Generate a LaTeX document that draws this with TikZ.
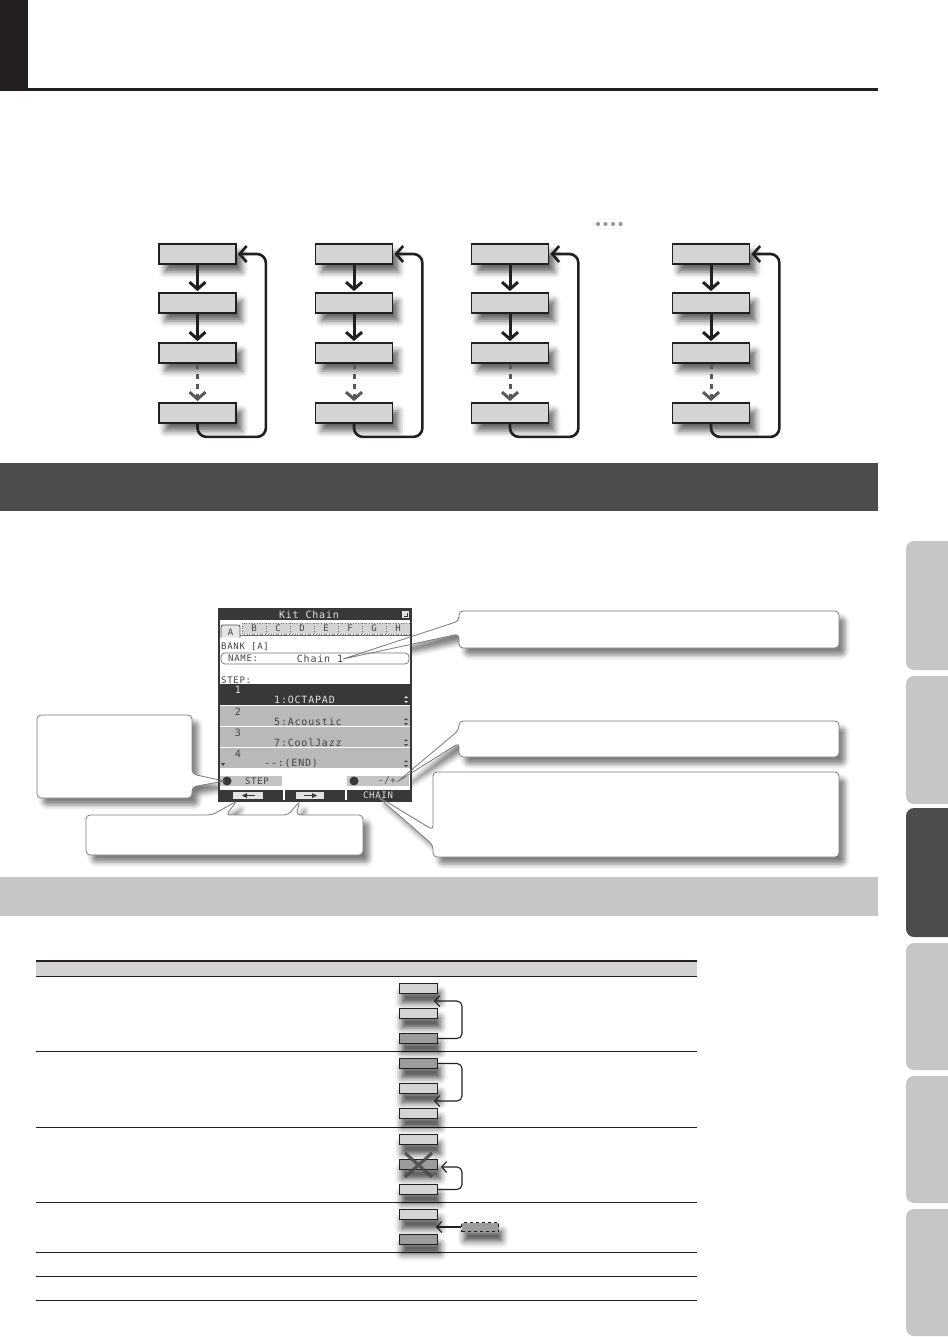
\documentclass[tikz,border=0pt]{standalone}
\usepackage{fontspec}
\newfontfamily\lcd[LetterSpace=8]{DejaVu Sans Mono}
\usetikzlibrary{arrows.meta,shadows.blur,calc}
\definecolor{boxgray}{HTML}{D4D4D4}
\definecolor{darkbar}{HTML}{4E4B4C}
\definecolor{lightbar}{HTML}{C6C6C6}
\definecolor{minidark}{HTML}{9C9C9C}
\definecolor{hdrgray}{HTML}{D2D2D2}
\definecolor{lcdrow}{HTML}{B9B9B9}
\definecolor{lcddark}{HTML}{383838}
\definecolor{lcdtext}{HTML}{444444}
\definecolor{lcdlight}{HTML}{E2E2E2}
\definecolor{inkblack}{HTML}{231F20}
\definecolor{calloutline}{HTML}{7A7A7A}
\pgfdeclarelayer{bg}
\pgfsetlayers{bg,main}
\tikzset{
  softshadow/.style={blur shadow={shadow xshift=6pt, shadow yshift=-8pt, shadow blur radius=6pt, shadow opacity=60}},
  flowbox/.style={draw=inkblack, line width=1.8pt, fill=boxgray, minimum width=77pt, minimum height=20pt, inner sep=0pt, softshadow},
  flowarrow/.style={draw=inkblack, line width=3pt, -{Straight Barb[length=7pt,width=16pt]}, shorten >=1pt},
  dasharrow/.style={draw=black!65, line width=3pt, dash pattern=on 5pt off 5pt, -{Straight Barb[length=7pt,width=16pt]}, shorten >=1pt},
  looparrow/.style={draw=inkblack, line width=2.6pt, rounded corners=9pt, -{Straight Barb[length=7pt,width=16pt]}, shorten >=1pt},
  loopshade/.style={draw=black, opacity=0.13, line width=8pt, rounded corners=9pt, transform canvas={shift={(5pt,-6pt)}}},
  callout/.style={draw=calloutline, line width=0.8pt, fill=white, rounded corners=4pt, blur shadow={shadow xshift=6pt, shadow yshift=-7pt, shadow blur radius=5pt, shadow opacity=50}},
  ptrline/.style={draw=calloutline, line width=0.8pt},
  minibox/.style={draw=inkblack, line width=1pt, fill=boxgray, minimum width=38pt, minimum height=10pt, inner sep=0pt, blur shadow={shadow xshift=3pt, shadow yshift=-9pt, shadow blur radius=7pt, shadow opacity=75}},
  minidk/.style={minibox, fill=minidark},
  miniarrow/.style={draw=inkblack, line width=1.1pt, rounded corners=5pt, -{Straight Barb[length=5pt,width=11pt]}},
  lcdtxt/.style={font=\lcd\fontsize{10}{10}\selectfont, text=lcdtext, inner sep=0pt},
  lcdsmall/.style={font=\lcd\fontsize{9}{9}\selectfont, text=lcdtext, inner sep=0pt},
}
\begin{document}
\begin{tikzpicture}[x=1pt,y=-1pt]
\useasboundingbox (0,0) rectangle (947,1337);
\begin{pgfonlayer}{bg}
\fill[white] (0,0) rectangle (947,1337);
\end{pgfonlayer}
% dummy shadow outside the page (first blur shadow initialisation)
\path[softshadow, fill=white] (-200,-200) rectangle (-150,-150);
% ---- header
\fill[inkblack] (0,0) rectangle (28,91);
\fill[inkblack] (28,88) rectangle (878,91);
\foreach \dx in {598,605.5,613,620.5} \fill[black!40] (\dx,224) circle (2.1);
% ---- flow columns
\foreach \c/\x in {a/197.5,b/354,c/510,d/711}{
  \node[flowbox] (\c1) at (\x,254) {};
  \node[flowbox] (\c2) at (\x,303) {};
  \node[flowbox] (\c3) at (\x,353) {};
  \node[flowbox] (\c4) at (\x,413) {};
  \begin{pgfonlayer}{bg}
  \draw[loopshade] (\c4.south) -- ++(0,13) -| ($(\c1.east)+(29,0)$) -- (\c1.east);
  \end{pgfonlayer}
  \draw[looparrow] (\c4.south) -- ++(0,13) -| ($(\c1.east)+(29,0)$) -- (\c1.east);
  \draw[flowarrow] (\c1.south) -- (\c2.north);
  \draw[flowarrow] (\c2.south) -- (\c3.north);
  \draw[dasharrow] (\c3.south) -- (\c4.north);
}
% ---- section bars
\fill[darkbar] (0,463) rectangle (878,511);
\fill[lightbar] (0,877) rectangle (878,916);
% ---- side tabs
\foreach \ta/\tb in {541/670,676/804,943/1070,1076/1203,1209/1336}
  \fill[lightbar, rounded corners=8pt] (960,\ta) -- (906,\ta) -- (906,\tb) -- (960,\tb) -- cycle;
\fill[darkbar, rounded corners=8pt] (960,808) -- (906,808) -- (906,937) -- (960,937) -- cycle;
% ---- callouts
\coordinate (tipA) at (343,659); \coordinate (aA1) at (459,621); \coordinate (aA2) at (459,634);
\coordinate (tipB) at (397,782); \coordinate (aB1) at (459,730); \coordinate (aB2) at (459,743);
\coordinate (tipC) at (377,796); \coordinate (aC1) at (433,830); \coordinate (aC2) at (433,845);
\coordinate (tipD) at (224,781); \coordinate (aD1) at (192,774); \coordinate (aD2) at (192,787);
\coordinate (tipE1) at (237,801); \coordinate (aE1) at (212,815); \coordinate (aE2) at (226,815);
\coordinate (tipE2) at (300,801); \coordinate (aE3) at (288,815); \coordinate (aE4) at (296,815);
\path[callout] (600,611) -- (839,611) -- (839,648) -- (459,648) -- (aA2) -- (tipA) -- (aA1) -- (459,611) -- cycle;
\path[callout] (600,721) -- (839,721) -- (839,757) -- (459,757) -- (aB2) -- (tipB) -- (aB1) -- (459,721) -- cycle;
\path[callout] (600,772) -- (839,772) -- (839,857) -- (433,857) -- (aC2) -- (tipC) -- (aC1) -- (433,772) -- cycle;
\path[callout] (100,715) -- (192,715) -- (aD1) -- (tipD) -- (aD2) -- (192,798) -- (37,798) -- (37,715) -- cycle;
\path[callout] (150,815) -- (aE1) -- (tipE1) -- (aE2) -- (aE3) -- (tipE2) -- (aE4) -- (363,815) -- (363,855) -- (86,855) -- (86,815) -- cycle;
% ---- LCD screen
\fill[white] (219,609) rectangle (411,801);
\fill[lcddark] (219,609) rectangle (411,620);
\node[lcdtxt, text=lcdlight] (ttl) at (309,615) {Kit Chain};
\fill[lcdlight] (402,611) rectangle (409,618);
\draw[lcddark, line width=0.9pt] (403.5,616.5) -- (407.5,616.5) -- (407.5,612.5);
% tabs
\foreach \L/\i in {B/0,C/1,D/2,E/3,F/4,G/5,H/6}{
  \draw[black!55, line width=0.6pt, dotted, fill=black!17] (242+\i*24,623) rectangle ++(24,11);
  \node[lcdsmall] (tab\L) at (254+\i*24,628.7) {\L};
}
\draw[black!60, line width=0.7pt] (240,635) -- (410,635);
\draw[black!70, line width=0.8pt, fill=black!10, rounded corners=2pt] (221,637.5) -- (221,625) -- (240,625) -- (240,637.5);
\node[lcdsmall] (tabA) at (230.5,632) {A};
\node[lcdsmall, anchor=west] (bank) at (221,647) {BANK [A]};
\draw[black!55, line width=0.7pt, rounded corners=4pt] (221,653) rectangle (409,664);
\node[lcdsmall, anchor=west] (namel) at (228,658.5) {NAME:};
\node[lcdtxt] (namev) at (320,658.5) {Chain 1};
\node[lcdsmall, anchor=west] (stepl) at (221,680) {STEP:};
% rows
\fill[lcddark] (220,684) rectangle (410,705);
\node[lcdtxt, text=lcdlight] (n1) at (238,690) {1};
\node[lcdtxt, text=lcdlight, anchor=west] (v1) at (274,699.5) {1:OCTAPAD};
\fill[lcdlight] (404,698) -- (408,698) -- (406,696) -- cycle (404,701) -- (408,701) -- (406,703) -- cycle;
\foreach \t/\n/\v/\xx in {706/2/5:Acoustic/274, 727/3/7:CoolJazz/274, 748/4/-{}-:(END)/264}{
  \fill[lcdrow] (220,\t) rectangle (410,\t+20);
  \node[lcdtxt] (n\n) at (238,\t+6) {\n};
  \node[lcdtxt, anchor=west] (v\n) at (\xx,\t+15.5) {\v};
  \fill[lcdtext] (404,\t+14) -- (408,\t+14) -- (406,\t+12) -- cycle (404,\t+17) -- (408,\t+17) -- (406,\t+19) -- cycle;
}
\fill[lcdtext] (221,763) -- (225,763) -- (223,766) -- cycle;
% soft buttons
\fill[black!23] (220,776) rectangle (282,786);
\fill[lcddark] (227,781) circle (4.5);
\node[lcdsmall] (stepb) at (257,781) {STEP};
\fill[black!23] (347,776) rectangle (409,786);
\fill[lcddark] (354,781) circle (4.5);
\node[lcdsmall] (pmb) at (387,781) {-/+};
% function bar
\fill[lcddark] (219,790) rectangle (411,801);
\fill[white] (283,790) rectangle (285,801);
\fill[white] (345,790) rectangle (347,801);
\fill[lcdlight] (233,792) rectangle (263,798.5);
\fill[lcdlight] (296,792) rectangle (324,798.5);
\fill[lcddark] (242,795.5) -- (247,793) -- (247,798) -- cycle;
\draw[lcddark, line width=1pt] (247,795.5) -- (255,795.5);
\fill[lcddark] (317,795.5) -- (312,793) -- (312,798) -- cycle;
\draw[lcddark, line width=1pt] (304,795.5) -- (312,795.5);
\node[lcdsmall, text=lcdlight] (chain) at (378,795.5) {CHAIN};
\draw[lcddark, line width=1.2pt] (219,609) rectangle (411,801);
% pointer lines over the screen
\begin{scope}
\clip (219,609) rectangle (411,801);
\draw[ptrline] (aA1) -- (tipA) -- (aA2);
\draw[ptrline] (aB1) -- (tipB) -- (aB2);
\draw[ptrline] (aC1) -- (tipC) -- (aC2);
\draw[ptrline] (aD1) -- (tipD) -- (aD2);
\end{scope}
% ---- table
\fill[hdrgray] (36,961) rectangle (697,976);
\draw[inkblack, line width=1.6pt] (36,961) -- (697,961);
\draw[inkblack, line width=1pt] (36,976) -- (697,976);
\foreach \yy in {1051,1127,1202,1252,1276,1300} \draw[inkblack, line width=1pt] (36,\yy) -- (697,\yy);
% row 1
\node[minibox] (m11) at (418,988.5) {};
\node[minibox] (m12) at (418,1013.5) {};
\node[minidk] (m13) at (418,1038.5) {};
\coordinate (r1) at (462,1001); \coordinate (t1) at (434,1001);
\draw[miniarrow] (m13.east) -| (r1) -- (t1);
% row 2
\node[minidk] (m21) at (418,1063.5) {};
\node[minibox] (m22) at (418,1088.5) {};
\node[minibox] (m23) at (418,1113.5) {};
\coordinate (r2) at (462,1101); \coordinate (t2) at (434,1101);
\draw[miniarrow] (m21.east) -| (r2) -- (t2);
% row 3
\node[minibox] (m31) at (418,1139.5) {};
\node[minidk] (m32) at (418,1164.5) {};
\node[minibox] (m33) at (418,1189.5) {};
\coordinate (r3) at (462,1167); \coordinate (t3) at (441,1167);
\draw[miniarrow] (m33.east) -| (r3) -- (t3);
\draw[black!70, line width=3.2pt, opacity=0.9] (405,1153) -- (432,1177) (405,1177) -- (432,1153);
% row 4
\node[minibox] (m41) at (418,1214.5) {};
\node[minidk] (m42) at (418,1239.5) {};
\node[minidk, dashed, minimum width=37pt, minimum height=9pt] (d4) at (480,1227) {};
\coordinate (t4) at (436,1227);
\draw[miniarrow] (d4.west) -- (t4);
\end{tikzpicture}
\end{document}
